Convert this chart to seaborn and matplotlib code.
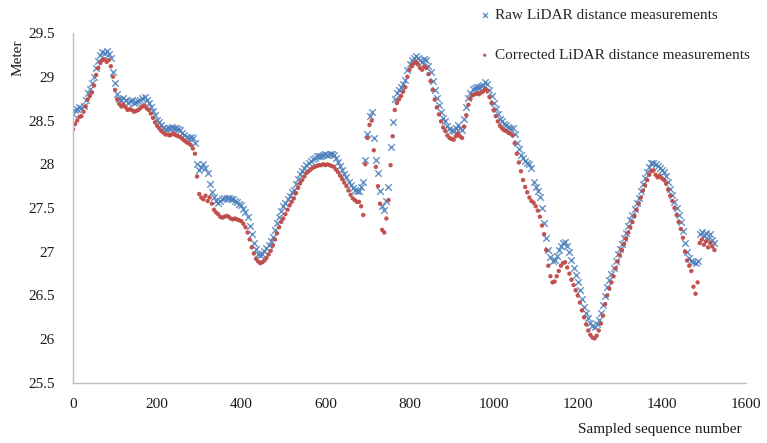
import numpy as np
import pandas as pd
import matplotlib
matplotlib.use("Agg")
import matplotlib.pyplot as plt
import seaborn as sns

# ---------------- data (one reading every 5 samples) ----------------
sample_step = 5
raw_lidar = [
    28.58, 28.62, 28.63, 28.65, 28.64, 28.67, 28.74, 28.82, 28.86, 28.93,   # 0-45
    29.00, 29.10, 29.18, 29.25, 29.28, 29.27, 29.29, 29.26, 29.22, 29.06,   # 50-95
    28.93, 28.80, 28.75, 28.73, 28.76, 28.74, 28.70, 28.72, 28.73, 28.70,   # 100-145
    28.71, 28.72, 28.74, 28.76, 28.77, 28.74, 28.70, 28.66, 28.61, 28.56,   # 150-195
    28.51, 28.48, 28.45, 28.42, 28.40, 28.41, 28.42, 28.43, 28.42, 28.41,   # 200-245
    28.40, 28.39, 28.36, 28.33, 28.31, 28.30, 28.31, 28.30, 28.24, 28.00,   # 250-295
    27.94, 27.97, 28.00, 27.96, 27.90, 27.78, 27.68, 27.63, 27.58, 27.56,   # 300-345
    27.58, 27.60, 27.62, 27.61, 27.62, 27.60, 27.60, 27.58, 27.57, 27.55,   # 350-395
    27.53, 27.49, 27.45, 27.40, 27.30, 27.20, 27.10, 27.03, 26.98, 26.96,   # 400-445
    26.98, 27.01, 27.04, 27.08, 27.12, 27.17, 27.25, 27.33, 27.40, 27.47,   # 450-495
    27.52, 27.56, 27.60, 27.64, 27.68, 27.71, 27.77, 27.83, 27.89, 27.92,   # 500-545
    27.96, 27.99, 28.02, 28.04, 28.06, 28.07, 28.09, 28.10, 28.10, 28.11,   # 550-595
    28.12, 28.11, 28.12, 28.12, 28.11, 28.07, 28.03, 27.98, 27.94, 27.89,   # 600-645
    27.85, 27.80, 27.76, 27.73, 27.71, 27.69, 27.70, 27.74, 27.80, 28.05,   # 650-695
    28.35, 28.55, 28.60, 28.30, 28.05, 27.90, 27.70, 27.52, 27.48, 27.58,   # 700-745
    27.74, 28.20, 28.48, 28.75, 28.82, 28.85, 28.88, 28.92, 28.96, 29.08,   # 750-795
    29.15, 29.19, 29.22, 29.24, 29.22, 29.19, 29.17, 29.20, 29.19, 29.12,   # 800-845
    29.05, 28.95, 28.85, 28.76, 28.68, 28.60, 28.53, 28.49, 28.44, 28.40,   # 850-895
    28.39, 28.38, 28.42, 28.45, 28.42, 28.39, 28.52, 28.65, 28.76, 28.82,   # 900-945
    28.86, 28.87, 28.88, 28.88, 28.90, 28.91, 28.94, 28.92, 28.85, 28.78,   # 950-995
    28.70, 28.63, 28.57, 28.52, 28.49, 28.46, 28.45, 28.43, 28.42, 28.41,   # 1000-1045
    28.35, 28.24, 28.17, 28.11, 28.07, 28.04, 28.02, 28.00, 27.96, 27.80,   # 1050-1095
    27.74, 27.70, 27.63, 27.50, 27.33, 27.16, 27.02, 26.94, 26.90, 26.91,   # 1100-1145
    26.95, 27.02, 27.07, 27.10, 27.11, 27.07, 27.00, 26.91, 26.82, 26.74,   # 1150-1195
    26.65, 26.56, 26.46, 26.37, 26.30, 26.24, 26.19, 26.15, 26.14, 26.17,   # 1200-1245
    26.22, 26.30, 26.39, 26.50, 26.60, 26.68, 26.75, 26.82, 26.90, 26.97,   # 1250-1295
    27.03, 27.09, 27.16, 27.22, 27.29, 27.36, 27.42, 27.49, 27.56, 27.62,   # 1300-1345
    27.70, 27.77, 27.84, 27.91, 27.97, 28.01, 28.02, 28.00, 27.98, 27.96,   # 1350-1395
    27.93, 27.91, 27.87, 27.80, 27.72, 27.65, 27.57, 27.50, 27.42, 27.34,   # 1400-1445
    27.24, 27.10, 27.00, 26.93, 26.89, 26.88, 26.87, 26.90, 27.20, 27.23,   # 1450-1495
    27.18, 27.22, 27.15, 27.20, 27.14, 27.10,                               # 1500-1525
]
corrected_lidar = [
    28.40, 28.46, 28.50, 28.54, 28.55, 28.60, 28.66, 28.74, 28.78, 28.82,   # 0-45
    28.90, 29.02, 29.10, 29.16, 29.19, 29.20, 29.17, 29.19, 29.12, 29.00,   # 50-95
    28.85, 28.74, 28.69, 28.66, 28.68, 28.65, 28.62, 28.63, 28.62, 28.60,   # 100-145
    28.61, 28.62, 28.64, 28.66, 28.67, 28.64, 28.62, 28.58, 28.53, 28.48,   # 150-195
    28.44, 28.41, 28.38, 28.36, 28.34, 28.34, 28.33, 28.34, 28.35, 28.33,   # 200-245
    28.32, 28.31, 28.29, 28.27, 28.25, 28.24, 28.22, 28.18, 28.12, 27.86,   # 250-295
    27.66, 27.62, 27.60, 27.64, 27.58, 27.62, 27.55, 27.48, 27.45, 27.43,   # 300-345
    27.40, 27.39, 27.40, 27.41, 27.40, 27.38, 27.37, 27.38, 27.37, 27.36,   # 350-395
    27.35, 27.32, 27.28, 27.22, 27.14, 27.05, 26.98, 26.92, 26.89, 26.87,   # 400-445
    26.88, 26.90, 26.93, 26.97, 27.01, 27.07, 27.14, 27.21, 27.28, 27.34,   # 450-495
    27.38, 27.43, 27.48, 27.53, 27.57, 27.61, 27.67, 27.73, 27.78, 27.82,   # 500-545
    27.86, 27.90, 27.92, 27.94, 27.96, 27.97, 27.98, 27.99, 27.99, 28.00,   # 550-595
    27.99, 28.00, 27.99, 27.98, 27.97, 27.94, 27.91, 27.87, 27.83, 27.79,   # 600-645
    27.75, 27.70, 27.65, 27.61, 27.59, 27.57, 27.57, 27.52, 27.42, 28.00,   # 650-695
    28.30, 28.45, 28.50, 28.16, 27.97, 27.75, 27.55, 27.25, 27.22, 27.38,   # 700-745
    27.59, 27.99, 28.32, 28.62, 28.70, 28.74, 28.78, 28.83, 28.88, 29.00,   # 750-795
    29.08, 29.12, 29.15, 29.17, 29.14, 29.10, 29.08, 29.12, 29.10, 29.03,   # 800-845
    28.95, 28.85, 28.74, 28.65, 28.57, 28.49, 28.42, 28.38, 28.33, 28.30,   # 850-895
    28.29, 28.28, 28.32, 28.35, 28.32, 28.30, 28.43, 28.56, 28.68, 28.75,   # 900-945
    28.79, 28.80, 28.81, 28.80, 28.82, 28.83, 28.86, 28.84, 28.77, 28.70,   # 950-995
    28.62, 28.55, 28.49, 28.44, 28.41, 28.39, 28.38, 28.36, 28.35, 28.33,   # 1000-1045
    28.24, 28.12, 28.02, 27.92, 27.82, 27.74, 27.68, 27.62, 27.58, 27.56,   # 1050-1095
    27.52, 27.47, 27.40, 27.30, 27.20, 27.02, 26.84, 26.72, 26.65, 26.66,   # 1100-1145
    26.72, 26.78, 26.84, 26.87, 26.88, 26.82, 26.75, 26.68, 26.62, 26.56,   # 1150-1195
    26.50, 26.42, 26.33, 26.25, 26.17, 26.10, 26.05, 26.02, 26.01, 26.04,   # 1200-1245
    26.10, 26.18, 26.27, 26.40, 26.50, 26.58, 26.65, 26.72, 26.81, 26.89,   # 1250-1295
    26.96, 27.02, 27.09, 27.15, 27.22, 27.28, 27.34, 27.41, 27.48, 27.55,   # 1300-1345
    27.62, 27.70, 27.76, 27.82, 27.88, 27.92, 27.93, 27.88, 27.85, 27.87,   # 1350-1395
    27.84, 27.82, 27.78, 27.71, 27.64, 27.58, 27.50, 27.42, 27.34, 27.26,   # 1400-1445
    27.16, 27.00, 26.90, 26.84, 26.78, 26.60, 26.52, 26.65, 27.10, 27.14,   # 1450-1495
    27.08, 27.12, 27.05, 27.10, 27.06, 27.02,                               # 1500-1525
]
raw_label = "Raw LiDAR distance measurements"
corr_label = "Corrected LiDAR distance measurements"
y_ticks = [25.5, 26, 26.5, 27, 27.5, 28, 28.5, 29, 29.5]
y_tick_labels = ["25.5", "26", "26.5", "27", "27.5", "28", "28.5", "29", "29.5"]
x_ticks = [0, 200, 400, 600, 800, 1000, 1200, 1400, 1600]
x_tick_labels = ["0", "200", "400", "600", "800", "1000", "1200", "1400", "1600"]

seq = np.arange(len(raw_lidar)) * sample_step
df_raw = pd.DataFrame({"seq": seq, "val": raw_lidar})
df_cor = pd.DataFrame({"seq": seq, "val": corrected_lidar})

# ---------------- style ----------------
sns.set_style("white")
plt.rcParams["font.family"] = ["Liberation Serif", "DejaVu Serif"]

blue = "#4A7EBB"
red = "#BE4B48"

fig = plt.figure(figsize=(7.67, 4.43), dpi=100)
ax = fig.add_axes([73 / 767, 1 - 383 / 443, (746 - 73) / 767, (383 - 33) / 443])

sns.scatterplot(data=df_raw, x="seq", y="val", ax=ax, marker="x", s=22,
                color=blue, linewidth=1.0, alpha=0.85, label=raw_label)
sns.scatterplot(data=df_cor, x="seq", y="val", ax=ax, marker="o", s=10,
                color=red, edgecolor="none", alpha=0.95, label=corr_label)

ax.set_xlim(0, 1600)
ax.set_ylim(25.5, 29.5)
ax.set_xticks(x_ticks)
ax.set_xticklabels(x_tick_labels)
ax.set_yticks(y_ticks)
ax.set_yticklabels(y_tick_labels)
ax.tick_params(axis="both", length=0, labelsize=11, colors="#1a1a1a")
ax.tick_params(axis="y", pad=13)
ax.tick_params(axis="x", pad=11)
ax.set_xlabel("")
ax.set_ylabel("")
for side in ["top", "right"]:
    ax.spines[side].set_visible(False)
for side in ["left", "bottom"]:
    ax.spines[side].set_color("#BFBFBF")
    ax.spines[side].set_linewidth(1.0)
ax.grid(False)

handles, labels = ax.get_legend_handles_labels()
ax.legend_.remove()
fig.legend(handles, labels, loc="upper left", bbox_to_anchor=(474 / 767, 1 - 2 / 443),
           frameon=False, fontsize=11, handlelength=0.6, handletextpad=0.4,
           labelspacing=1.75, markerscale=0.75, borderaxespad=0)

fig.text(18 / 767, 1 - 58 / 443, "Meter", rotation=90, ha="center", va="center",
         fontsize=11, color="#1a1a1a")
fig.text(660 / 767, 1 - 430 / 443, "Sampled sequence number", ha="center", va="center",
         fontsize=11, color="#1a1a1a")

fig.savefig("out.png", dpi=100)
